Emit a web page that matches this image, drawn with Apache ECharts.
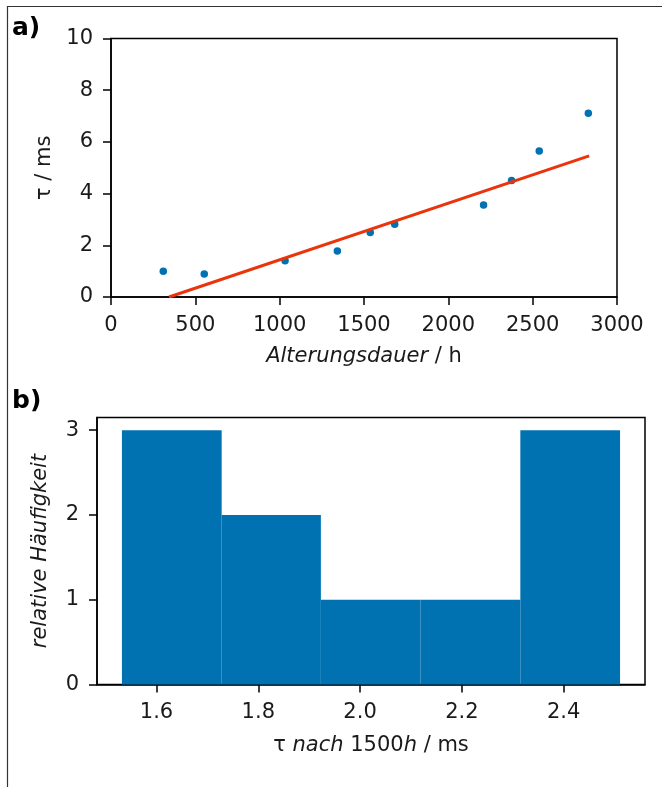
<!DOCTYPE html>
<html>
<head>
<meta charset="utf-8">
<title>Alterung – Zeitkonstante</title>
<script src="https://cdn.jsdelivr.net/npm/echarts@6/dist/echarts.min.js"></script>
<style>
  html, body { margin: 0; padding: 0; background: #fff; }
  #chart { width: 662px; height: 787px; }
</style>
</head>
<body>
<div id="chart"></div>
<script>
// a) measured time constant vs. ageing duration
const agingHours = [310, 553, 1032, 1342, 1537, 1682, 2209, 2375, 2539, 2830];
const tauMs      = [1.00, 0.89, 1.40, 1.78, 2.50, 2.81, 3.56, 4.51, 5.65, 7.11];

// a) linear trend line end points
const fitHours = [344, 2835];
const fitTau   = [0.0, 5.46];

// b) histogram of tau after 1500 h
const binEdges  = [1.532, 1.728, 1.923, 2.119, 2.315, 2.511];
const binCounts = [3, 2, 1, 1, 3];

// tick labels
const hoursTicks = [0, 500, 1000, 1500, 2000, 2500, 3000];
const tauTicks   = [0, 2, 4, 6, 8, 10];
const histXTicks = [1.6, 1.8, 2.0, 2.2, 2.4];
const histYTicks = [0, 1, 2, 3];

const FONT = 'DejaVu Sans';
const TXT = '#1a1a1a';
const BLUE = '#0072b2';
const RED = '#ea340c';
const FS = 21;

const scatterData = agingHours.map((h, i) => [h, tauMs[i]]);
const fitData = fitHours.map((h, i) => [h, fitTau[i]]);
const histData = binCounts.map((c, i) => [binEdges[i], binEdges[i + 1], c]);

const labelStyle = { color: TXT, fontFamily: FONT, fontSize: FS };
const axisLineStyle = { show: true, lineStyle: { color: '#000', width: 1.5 } };
const tickStyle = { show: true, length: 8, inside: false, lineStyle: { color: '#000', width: 1.5 } };
const nameBase = { color: TXT, fontFamily: FONT, fontSize: FS };
const rich = {
  n: { color: TXT, fontFamily: FONT, fontSize: FS },
  i: { color: TXT, fontFamily: FONT, fontSize: FS, fontStyle: 'italic' }
};

const chart = echarts.init(document.getElementById('chart'), null, { renderer: 'canvas' });

chart.setOption({
  animation: false,
  backgroundColor: '#fff',
  graphic: [
    { type: 'rect', shape: { x: 7.5, y: 6.5, width: 700, height: 800 },
      style: { fill: 'none', stroke: '#333', lineWidth: 1.2 }, silent: true },
    { type: 'text', left: 12, top: 16,
      style: { text: 'a)', font: 'bold 25px "DejaVu Sans"', fill: '#000' } },
    { type: 'text', left: 12, top: 389,
      style: { text: 'b)', font: 'bold 25px "DejaVu Sans"', fill: '#000' } }
  ],
  grid: [
    { left: 111, top: 38.5, width: 506, height: 258.5, show: true,
      borderColor: '#000', borderWidth: 1.5, backgroundColor: 'transparent' },
    { left: 97, top: 417.5, width: 548, height: 267, show: true,
      borderColor: '#000', borderWidth: 1.5, backgroundColor: 'transparent' }
  ],
  xAxis: [
    {
      gridIndex: 0, type: 'value', min: 0, max: 3000, interval: 500,
      axisLine: axisLineStyle, axisTick: tickStyle, splitLine: { show: false },
      axisLabel: Object.assign({ margin: 18, customValues: hoursTicks,
        formatter: v => String(v) }, labelStyle),
      name: '{i|Alterungsdauer}{n| / h}', nameLocation: 'middle', nameGap: 49,
      nameTextStyle: Object.assign({ rich }, nameBase)
    },
    {
      gridIndex: 1, type: 'value', min: 1.483, max: 2.560,
      axisLine: axisLineStyle,
      axisTick: Object.assign({ customValues: histXTicks }, tickStyle),
      splitLine: { show: false },
      axisLabel: Object.assign({ margin: 18, customValues: histXTicks,
        formatter: v => v.toFixed(1) }, labelStyle),
      name: '{n|τ }{i|nach}{n| 1500}{i|h}{n| / ms}', nameLocation: 'middle', nameGap: 51,
      nameTextStyle: Object.assign({ rich }, nameBase)
    }
  ],
  yAxis: [
    {
      gridIndex: 0, type: 'value', min: 0, max: 10, interval: 2,
      axisLine: axisLineStyle, axisTick: tickStyle, splitLine: { show: false },
      axisLabel: Object.assign({ margin: 18, customValues: tauTicks }, labelStyle),
      name: 'τ / ms', nameLocation: 'middle', nameGap: 56,
      nameTextStyle: nameBase
    },
    {
      gridIndex: 1, type: 'value', min: 0, max: 3.15,
      axisLine: axisLineStyle,
      axisTick: Object.assign({ customValues: histYTicks }, tickStyle),
      splitLine: { show: false },
      axisLabel: Object.assign({ margin: 18, customValues: histYTicks }, labelStyle),
      name: 'relative Häufigkeit', nameLocation: 'middle', nameGap: 46,
      nameTextStyle: Object.assign({}, nameBase, { fontStyle: 'italic' })
    }
  ],
  series: [
    {
      type: 'scatter', xAxisIndex: 0, yAxisIndex: 0,
      data: scatterData, symbol: 'circle', symbolSize: 7.5,
      itemStyle: { color: BLUE, opacity: 1 }, z: 2
    },
    {
      type: 'line', xAxisIndex: 0, yAxisIndex: 0,
      data: fitData, symbol: 'none', clip: true,
      lineStyle: { color: RED, width: 3 }, z: 3
    },
    {
      type: 'custom', xAxisIndex: 1, yAxisIndex: 1,
      data: histData,
      encode: { x: [0, 1], y: 2 },
      renderItem: (params, api) => {
        const p0 = api.coord([api.value(0), 0]);
        const p1 = api.coord([api.value(1), api.value(2)]);
        return {
          type: 'rect',
          shape: { x: p0[0], y: p1[1], width: p1[0] - p0[0], height: p0[1] - p1[1] },
          style: { fill: BLUE }
        };
      },
      z: 2
    }
  ]
});
</script>
</body>
</html>
